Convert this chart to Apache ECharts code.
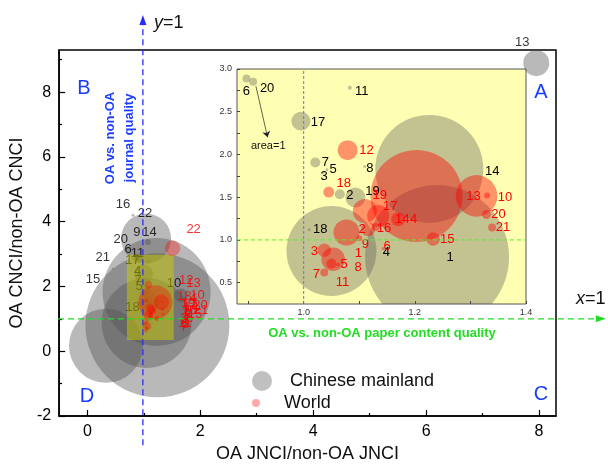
<!DOCTYPE html>
<html><head><meta charset="utf-8">
<script src="https://cdn.jsdelivr.net/npm/echarts@6/dist/echarts.min.js"></script>
<style>html,body{margin:0;padding:0;background:#fff}#c{width:608px;height:468px}</style>
</head><body><div id="c"></div>
<script>
// ---------------- DATA ----------------
// Chinese mainland: id, OA JNCI/non-OA JNCI (x), OA CNCI/non-OA CNCI (y), bubble area
const cnIds  = [1, 2, 3, 4, 5, 6, 7, 8, 9, 10, 11, 13, 14, 15, 16, 17, 18, 19, 20, 21, 22];
const cnX    = [1.24, 1.065, 1.035, 1.05, 1.042, 0.897, 1.021, 1.11, 1.07, 1.66, 1.083, 7.95, 1.226, 0.33, 0.81, 0.995, 1.01, 1.093, 0.909, 0.45, 1.04];
const cnY    = [0.80, 1.535, 1.79, 0.87, 1.82, 2.89, 1.905, 1.86, 3.37, 1.72, 2.78, 8.9, 1.83, 0.17, 4.2, 2.39, 1.12, 1.496, 2.85, 2.55, 3.48];
const cnArea = [5184, 25, 2.25, 2025, 2.25, 16, 25, 2.25, 9, 49, 4, 169, 2916, 1369, 2.25, 90, 2.25, 100, 16, 1, 625];

// World
const wIds  = [1, 2, 3, 4, 5, 6, 7, 8, 9, 10, 11, 12, 13, 14, 15, 16, 17, 18, 19, 20, 21, 22];
const wX    = [1.077, 1.116, 1.037, 1.203, 1.062, 1.143, 1.037, 1.053, 1.10, 1.33, 1.05, 1.079, 1.311, 1.17, 1.233, 1.13, 1.134, 1.045, 1.11, 1.329, 1.339, 1.51];
const wY    = [1.087, 1.125, 0.88, 1.515, 0.71, 0.90, 0.62, 0.774, 1.02, 1.52, 0.72, 2.05, 1.515, 1.242, 1.01, 1.15, 1.281, 1.56, 1.339, 1.297, 1.145, 3.18];
const wArea = [169, 49, 45, 2116, 4, 2.25, 16, 137, 9, 9, 25, 100, 433, 49, 45, 16, 121, 30, 144, 20, 16, 433];

// highlighted region in main plot [x0, y0, x1, y1]
const zoomBox = [0.70, 0.35, 1.53, 2.98];

// tick labels
const mainXLabels = [0, 2, 4, 6, 8];
const mainXMinor  = [1, 3, 5, 7];
const mainYLabels = [-2, 0, 2, 4, 6, 8];
const mainYMinor  = [-1, 1, 3, 5, 7, 9];
const insetXLabels = [1.0, 1.2, 1.4];
const insetXTicks  = [0.9, 1.0, 1.1, 1.2, 1.3, 1.4];
const insetYLabels = [0.5, 1.0, 1.5, 2.0, 2.5, 3.0];
const insetYTicks  = [0.5, 0.75, 1.0, 1.25, 1.5, 1.75, 2.0, 2.25, 2.5, 2.75, 3.0];

// ---------------- LAYOUT / STYLE ----------------
const W = 608, H = 468;
const mainGrid = {left: 58, top: 50, right: 52, bottom: 52};
const mainX = [-0.5, 8.3], mainY = [-2, 9.3];
const insetGrid = {left: 237, top: 69, width: 289, height: 235};
const insetX = [0.88, 1.4], insetY = [0.25, 3.0];
const pxX = (W - mainGrid.left - mainGrid.right) / (mainX[1] - mainX[0]);
const pxY = (H - mainGrid.top - mainGrid.bottom) / (mainY[1] - mainY[0]);
const ovX = [mainX[0] - mainGrid.left / pxX, mainX[1] + mainGrid.right / pxX];
const ovY = [mainY[0] - mainGrid.bottom / pxY, mainY[1] + mainGrid.top / pxY];
const refV = [-2.9, 10.38];   // extent of vertical reference arrow (y units)
const refH = [-0.5, 9.18];    // extent of horizontal reference arrow (x units)

const FONT = '"Liberation Sans", Arial, sans-serif';
const GRAY_MAIN = 'rgba(80,80,80,0.5)';
const GRAY_INSET = 'rgba(90,90,90,0.36)';
const RED = 'rgba(255,0,0,0.42)';
const BLUE = '#2b2bff';
const GREEN = '#22dd22';
const worldMainScale = 0.37;

const cnMainLabelOffset = {4:[-9,-52],5:[-7,-6],6:[-10,-8],7:[-7,-9],9:[-11,-10],10:[-7,-12],11:[-11,-8],13:[-14,-21],
  14:[-7,-60],15:[-13,-66],16:[-10,-11],17:[-11,-13],18:[-12,-8],20:[-18,-19],21:[-10,-11],22:[-1,-25]};
const wMainLabelOffset = {13:[32,-19],22:[21,-19],10:[35,-7]};
const wMainDefaultOffset = [38,-4];
const cnInsetLabelOffset = {1:[13,0],2:[10,1],3:[1,4],4:[55,1],5:[6,0],6:[0,13],7:[10,0],8:[5,2],11:[12,4],
  14:[63,2],17:[17,1],18:[11,0],19:[17,-6],20:[14,7]};
const wInsetLabelOffset = {1:[12,21],2:[-6,0],3:[-10,1],4:[-3,24],5:[6,0],6:[4,-2],7:[-8,2],8:[25,8],9:[6,6],10:[18,2],
  11:[11,19],12:[19,0],13:[-3,1],14:[4,0],15:[14,0],16:[8,1],17:[12,-9],18:[15,-9],19:[15,-16],20:[12,0],21:[11,0]};

// ---------------- BUILD ----------------
const cnMain = cnIds.map((id, i) => {
  const off = cnMainLabelOffset[id];
  return {value: [cnX[i], cnY[i], cnArea[i], id], label: off ? {show: true, offset: off} : {show: false}};
});
const wMain = wIds.map((id, i) => {
  const off = wMainLabelOffset[id] || wMainDefaultOffset;
  return {value: [wX[i], wY[i], wArea[i], id], label: {show: true, offset: off}};
});
const cnInset = cnIds.map((id, i) => [cnX[i], cnY[i], cnArea[i], id]);
const wInset = wIds.map((id, i) => [wX[i], wY[i], wArea[i], id]);
const insetLabels = cnIds.map((id, i) => [cnX[i], cnY[i], id, 0])
  .concat(wIds.map((id, i) => [wX[i], wY[i], id, 1]));
const refLines = [[1, refV[0], 1, refV[1]], [refH[0], 1, refH[1], 1]];
const refColors = [BLUE, GREEN];
const insetRefLines = [[1, insetY[0], 1, insetY[1]], [insetX[0], 1, insetX[1], 1]];
const insetRefColors = ['#6a6aff', '#55ee33'];
const insetRefDash = [[3, 2], [4, 3]];

function bubbleRender(color, scale) {
  return function (params, api) {
    const c = api.coord([api.value(0), api.value(1)]);
    return {type: 'circle', shape: {cx: c[0], cy: c[1], r: Math.sqrt(api.value(2)) * scale},
      style: {fill: color}};
  };
}

const option = {
  animation: false,
  grid: [
    Object.assign({show: true, borderColor: '#000', borderWidth: 1.5, backgroundColor: 'transparent'}, mainGrid),
    Object.assign({show: true, borderColor: '#555', borderWidth: 1, backgroundColor: '#FFFFB3'}, insetGrid),
    {left: 0, right: 0, top: 0, bottom: 0, show: false}
  ],
  xAxis: [
    {gridIndex: 0, type: 'value', min: mainX[0], max: mainX[1], position: 'bottom',
      axisLine: {show: true, onZero: false, lineStyle: {color: '#000', width: 1.5}},
      axisTick: {show: true, inside: true, length: 6, customValues: mainXLabels, lineStyle: {color: '#000', width: 1.2}},
      axisLabel: {customValues: mainXLabels, fontSize: 16, color: '#000', fontFamily: FONT, margin: 8},
      splitLine: {show: false},
      name: 'OA JNCI/non-OA JNCI', nameLocation: 'middle', nameGap: 27,
      nameTextStyle: {fontSize: 18, color: '#111', fontFamily: FONT}},
    {gridIndex: 1, type: 'value', min: insetX[0], max: insetX[1], position: 'bottom',
      axisLine: {show: false, onZero: false},
      axisTick: {show: true, inside: true, length: 3, customValues: insetXTicks, lineStyle: {color: '#444'}},
      axisLabel: {customValues: insetXLabels, fontSize: 9, color: '#333', fontFamily: FONT, margin: 4,
        formatter: v => Number(v).toFixed(1)},
      splitLine: {show: false}},
    {gridIndex: 0, type: 'value', min: mainX[0], max: mainX[1], position: 'bottom',
      axisLine: {show: false, onZero: false},
      axisTick: {show: true, inside: true, length: 3, customValues: mainXMinor, lineStyle: {color: '#000', width: 1.2}},
      axisLabel: {show: false}, splitLine: {show: false}},
    {gridIndex: 2, type: 'value', min: ovX[0], max: ovX[1], show: false}
  ],
  yAxis: [
    {gridIndex: 0, type: 'value', min: mainY[0], max: mainY[1], position: 'left',
      axisLine: {show: true, onZero: false, lineStyle: {color: '#000', width: 1.5}},
      axisTick: {show: true, inside: true, length: 6, customValues: mainYLabels, lineStyle: {color: '#000', width: 1.2}},
      axisLabel: {customValues: mainYLabels, fontSize: 16, color: '#000', fontFamily: FONT, margin: 8},
      splitLine: {show: false},
      name: 'OA CNCI/non-OA CNCI', nameLocation: 'middle', nameGap: 27, nameRotate: 90,
      nameTextStyle: {fontSize: 18, color: '#111', fontFamily: FONT}},
    {gridIndex: 1, type: 'value', min: insetY[0], max: insetY[1], position: 'left',
      axisLine: {show: false, onZero: false},
      axisTick: {show: true, inside: true, length: 3, customValues: insetYTicks, lineStyle: {color: '#444'}},
      axisLabel: {customValues: insetYLabels, fontSize: 9, color: '#333', fontFamily: FONT, margin: 5,
        formatter: v => Number(v).toFixed(1)},
      splitLine: {show: false}},
    {gridIndex: 0, type: 'value', min: mainY[0], max: mainY[1], position: 'left',
      axisLine: {show: false, onZero: false},
      axisTick: {show: true, inside: true, length: 3, customValues: mainYMinor, lineStyle: {color: '#000', width: 1.2}},
      axisLabel: {show: false}, splitLine: {show: false}},
    {gridIndex: 2, type: 'value', min: ovY[0], max: ovY[1], show: false}
  ],
  legend: [
    {data: [{name: 'Chinese mainland', itemStyle: {color: 'rgba(80,80,80,0.45)'}}], left: 247, top: 366, itemWidth: 46, itemHeight: 20, icon: 'circle',
      textStyle: {fontSize: 18, color: '#111', fontFamily: FONT}, selectedMode: false},
    {data: ['World'], left: 247, top: 389, itemWidth: 46, itemHeight: 8, icon: 'circle',
      textStyle: {fontSize: 18, color: '#111', fontFamily: FONT}, selectedMode: false}
  ],
  series: [
    {name: 'Chinese mainland', type: 'scatter', xAxisIndex: 0, yAxisIndex: 0, z: 2,
      data: cnMain, symbolSize: v => 2 * Math.sqrt(v[2]),
      itemStyle: {color: GRAY_MAIN},
      label: {show: true, position: 'inside', formatter: p => p.value[3], color: '#000', fontSize: 13, fontFamily: FONT},
      emphasis: {disabled: true}},
    {name: 'box', type: 'custom', xAxisIndex: 0, yAxisIndex: 0, z: 3,
      data: [zoomBox], encode: {x: [0, 2], y: [1, 3]},
      renderItem: function (params, api) {
        const p0 = api.coord([api.value(0), api.value(3)]);
        const p1 = api.coord([api.value(2), api.value(1)]);
        return {type: 'rect', shape: {x: p0[0], y: p0[1], width: p1[0] - p0[0], height: p1[1] - p0[1]},
          style: {fill: 'rgba(205,205,0,0.5)'}};
      }},
    {name: 'World', type: 'scatter', xAxisIndex: 0, yAxisIndex: 0, z: 4,
      data: wMain, symbolSize: v => 2 * Math.sqrt(v[2]) * worldMainScale,
      itemStyle: {color: RED},
      label: {show: true, position: 'inside', formatter: p => p.value[3], color: '#f00', fontSize: 13, fontFamily: FONT},
      emphasis: {disabled: true}},
    {name: 'cnInset', type: 'custom', xAxisIndex: 1, yAxisIndex: 1, z: 2, clip: true,
      data: cnInset, encode: {x: 0, y: 1}, renderItem: bubbleRender(GRAY_INSET, 1)},
    {name: 'wInset', type: 'custom', xAxisIndex: 1, yAxisIndex: 1, z: 3, clip: true,
      data: wInset, encode: {x: 0, y: 1}, renderItem: bubbleRender(RED, 1)},
    {name: 'insetLabels', type: 'custom', xAxisIndex: 1, yAxisIndex: 1, z: 5,
      data: insetLabels, encode: {x: 0, y: 1},
      renderItem: function (params, api) {
        const x = api.value(0), y = api.value(1), id = api.value(2), isW = api.value(3);
        if (x < insetX[0] || x > insetX[1] || y < insetY[0] || y > insetY[1]) return {type: 'group', children: []};
        const off = (isW ? wInsetLabelOffset[id] : cnInsetLabelOffset[id]);
        if (!off) return {type: 'group', children: []};
        const c = api.coord([x, y]);
        return {type: 'text', x: c[0] + off[0], y: c[1] + off[1],
          style: {text: String(id), fill: isW ? '#f00' : '#000', fontSize: 13, fontFamily: FONT,
            align: 'center', verticalAlign: 'middle'}};
      }},
    {name: 'insetRefs', type: 'custom', xAxisIndex: 1, yAxisIndex: 1, z: 6, clip: true,
      data: insetRefLines, encode: {x: [0, 2], y: [1, 3]},
      renderItem: function (params, api) {
        const a = api.coord([api.value(0), api.value(1)]);
        const b = api.coord([api.value(2), api.value(3)]);
        return {type: 'line', shape: {x1: a[0], y1: a[1], x2: b[0], y2: b[1]},
          style: {stroke: insetRefColors[params.dataIndex], lineWidth: 1, lineDash: insetRefDash[params.dataIndex].slice()}};
      }},
    {name: 'areaNote', type: 'line', xAxisIndex: 1, yAxisIndex: 1, z: 6, data: [],
      markLine: {silent: true, symbol: ['none', 'arrow'], symbolSize: 6, animation: false,
        lineStyle: {color: '#222', type: 'solid', width: 0.7}, itemStyle: {color: '#222'},
        label: {show: true, position: 'end', formatter: 'area=1', fontSize: 11, color: '#111', fontFamily: FONT, distance: 3},
        data: [[{coord: [0.914, 2.80]}, {coord: [0.935, 2.20]}]]}},
    {name: 'refs', type: 'custom', xAxisIndex: 3, yAxisIndex: 3, z: 7, clip: false,
      data: refLines, encode: {x: [0, 2], y: [1, 3]},
      renderItem: function (params, api) {
        const color = refColors[params.dataIndex];
        const a = api.coord([api.value(0), api.value(1)]);
        const b = api.coord([api.value(2), api.value(3)]);
        const dx = b[0] - a[0], dy = b[1] - a[1], L = Math.hypot(dx, dy), ux = dx / L, uy = dy / L;
        const hl = 10, hw = 3.5;
        const base = [b[0] - ux * hl, b[1] - uy * hl];
        return {type: 'group', children: [
          {type: 'line', shape: {x1: a[0], y1: a[1], x2: base[0], y2: base[1]},
            style: {stroke: color, lineWidth: 1.3, lineDash: [6, 4]}},
          {type: 'polygon', shape: {points: [b, [base[0] - uy * hw, base[1] + ux * hw], [base[0] + uy * hw, base[1] - ux * hw]]},
            style: {fill: color}}
        ]};
      }}
  ],
  graphic: [
    {type: 'text', x: 84, y: 88, z: 100, style: {text: 'B', fill: '#1a3cff', fontSize: 20, fontFamily: FONT, align: 'center', verticalAlign: 'middle'}},
    {type: 'text', x: 541, y: 92, z: 100, style: {text: 'A', fill: '#1a3cff', fontSize: 20, fontFamily: FONT, align: 'center', verticalAlign: 'middle'}},
    {type: 'text', x: 87, y: 396, z: 100, style: {text: 'D', fill: '#1a3cff', fontSize: 20, fontFamily: FONT, align: 'center', verticalAlign: 'middle'}},
    {type: 'text', x: 541, y: 394, z: 100, style: {text: 'C', fill: '#1a3cff', fontSize: 20, fontFamily: FONT, align: 'center', verticalAlign: 'middle'}},
    {type: 'text', x: 154, y: 23, z: 100, style: {text: '{i|y}=1', fill: '#111', fontSize: 18, fontFamily: FONT, verticalAlign: 'middle',
      rich: {i: {fontStyle: 'italic', fontSize: 18, fontFamily: FONT, fill: '#111'}}}},
    {type: 'text', x: 576, y: 299, z: 100, style: {text: '{i|x}=1', fill: '#111', fontSize: 18, fontFamily: FONT, verticalAlign: 'middle',
      rich: {i: {fontStyle: 'italic', fontSize: 18, fontFamily: FONT, fill: '#111'}}}},
    {type: 'text', x: 382, y: 333, z: 100, style: {text: 'OA vs. non-OA paper content quality', fill: '#22dd22', fontSize: 13, fontWeight: 'bold',
      fontFamily: FONT, align: 'center', verticalAlign: 'middle'}},
    {type: 'text', x: 120, y: 138, rotation: Math.PI / 2, z: 100, style: {text: 'OA vs. non-OA\njournal quality', fill: '#1f3fff', fontSize: 13,
      fontWeight: 'bold', fontFamily: FONT, align: 'center', verticalAlign: 'middle', lineHeight: 19}}
  ]
};

const chart = echarts.init(document.getElementById('c'), null, {renderer: 'canvas'});
chart.setOption(option);
</script>
</body></html>
